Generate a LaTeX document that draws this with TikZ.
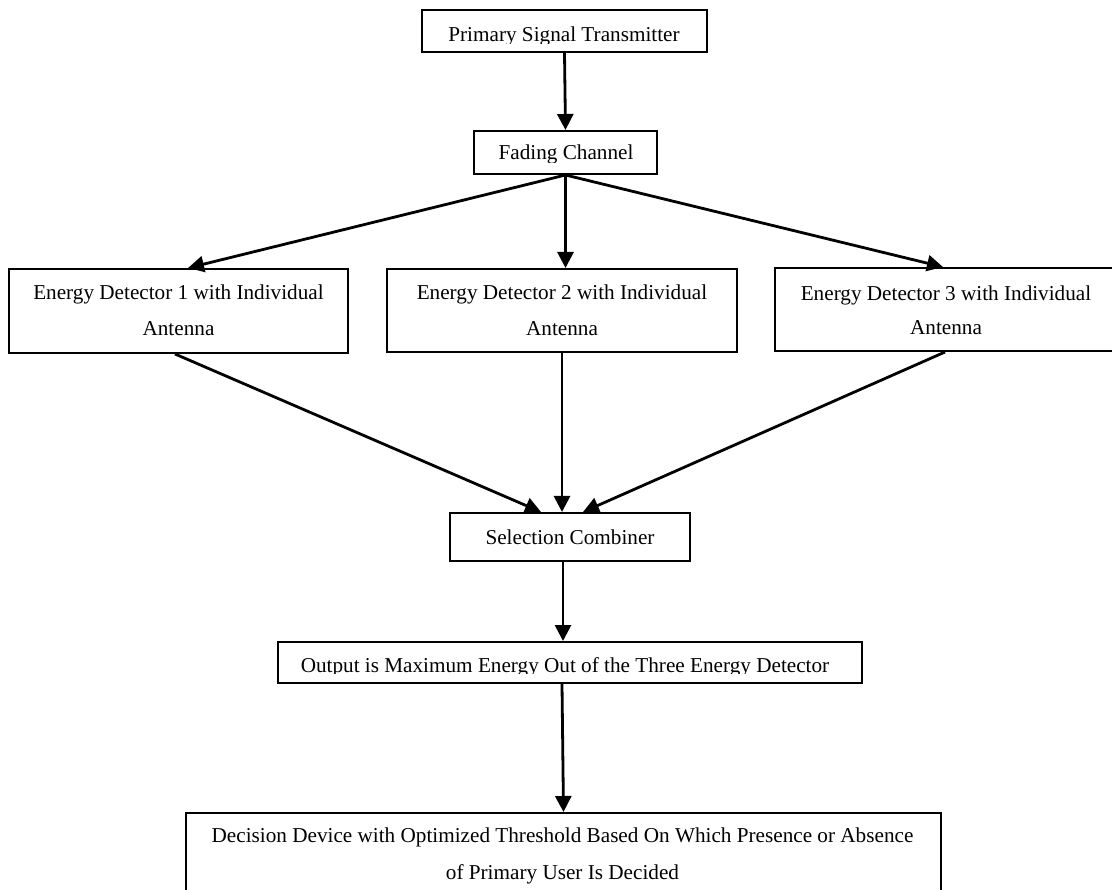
\documentclass[tikz,border=0pt]{standalone}
\usepackage{fontspec}
\setmainfont{Liberation Serif}
\usetikzlibrary{arrows.meta,calc}
\begin{document}
\begin{tikzpicture}[x=1pt,y=-1pt,
  box/.style={draw, line width=2pt, inner sep=0pt},
  lbl/.style={inner sep=0pt, anchor=base, font=\fontsize{21.2}{25}\selectfont},
  flow/.style={line width=2.8pt, -{Triangle[length=16pt,width=16pt]}}]

% page area and white background
\path[use as bounding box, fill=white] (0,0) rectangle (1112,890);
\clip (0,0) rectangle (1112,890);

% blocks
\node[box, minimum width=285pt, minimum height=42pt] (pst) at (564.5,31) {};
\node[box, minimum width=183pt, minimum height=43pt] (fad) at (565.5,152.5) {};
\node[box, minimum width=339pt, minimum height=84pt] (ed1) at (178.5,311) {};
\node[box, minimum width=350pt, minimum height=83pt] (ed2) at (562,310.5) {};
\node[box, minimum width=345pt, minimum height=83pt] (ed3) at (947.5,309.5) {};
\node[box, minimum width=240pt, minimum height=48pt] (sel) at (570,537) {};
\node[box, minimum width=584pt, minimum height=41pt] (out) at (570,662.5) {};
\node[box, minimum width=755pt, minimum height=90pt] (dec) at (563.5,858) {};

% single-line labels, cut off just below the baseline
\begin{scope}
  \clip (pst.north west) rectangle ($(pst.south east)+(0,-9)$);
  \node[lbl] (pst-t) at ($(pst.south)+(-0.5,-11)$) {Primary Signal Transmitter};
\end{scope}
\begin{scope}
  \clip (fad.north west) rectangle ($(fad.south east)+(0,-12.5)$);
  \node[lbl] (fad-t) at ($(fad.south)+(0.5,-15)$) {Fading Channel};
\end{scope}
\begin{scope}
  \clip (out.north west) rectangle ($(out.south east)+(0,-10.5)$);
  \node[lbl] (out-t) at ($(out.south)+(-5,-12)$) {Output is Maximum Energy Out of the Three Energy Detector};
\end{scope}
\node[lbl] (sel-t) at ($(sel.north)+(0,33)$) {Selection Combiner};

% two-line labels
\node[lbl] (ed1-a) at ($(ed1.north)+(0,32)$) {Energy Detector 1 with Individual};
\node[lbl] (ed1-b) at ($(ed1.north)+(0,68)$) {Antenna};
\node[lbl] (ed2-a) at ($(ed2.north)+(0,32)$) {Energy Detector 2 with Individual};
\node[lbl] (ed2-b) at ($(ed2.north)+(0,68)$) {Antenna};
\node[lbl] (ed3-a) at ($(ed3.north)+(-1.5,34)$) {Energy Detector 3 with Individual};
\node[lbl] (ed3-b) at ($(ed3.north)+(-1.5,68)$) {Antenna};
\node[lbl] (dec-a) at ($(dec.north)+(-1,30)$) {Decision Device with Optimized Threshold Based On Which Presence or Absence};
\node[lbl] (dec-b) at ($(dec.north)+(-1,67)$) {of Primary User Is Decided};

% connectors
\draw[flow] (pst.south) -- (fad.north);
\draw[flow] (fad.south) -- ([xshift=9.5pt]ed1.north);
\draw[flow] (fad.south) -- (fad.south |- ed2.north);
\draw[flow] (fad.south) -- ([xshift=-4.5pt]ed3.north);
\draw[flow] ([xshift=-3.5pt]ed1.south) -- ([xshift=-29pt]sel.north);
\draw[flow] (ed2.south) -- (ed2.south |- sel.north);
\draw[flow] ([xshift=-2.5pt]ed3.south) -- ([xshift=13pt]sel.north);
\draw[flow] ([xshift=-7pt]sel.south) -- ([xshift=-7pt]out.north);
\draw[flow] ([xshift=-8pt]out.south) -- (dec.north);
\end{tikzpicture}
\end{document}
